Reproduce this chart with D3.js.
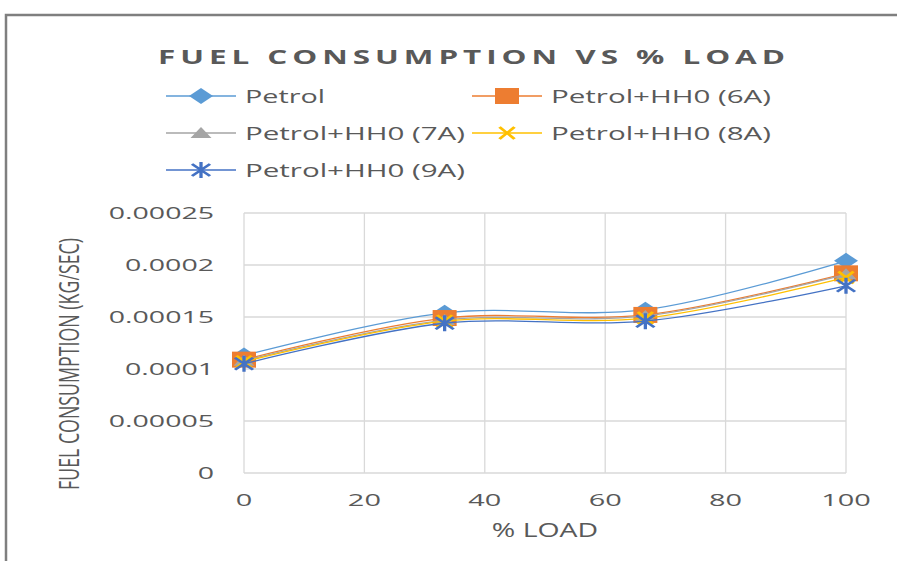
<!DOCTYPE html>
<html>
<head>
<meta charset="utf-8">
<script src="https://cdn.jsdelivr.net/npm/d3@7"></script>
<style>
  body { margin: 0; background: #fff; }
  text { font-family: "Open Sans", "Liberation Sans", sans-serif; fill: #595959; }
</style>
</head>
<body>
<svg id="chart"></svg>
<script>
// data
var loads = [0, 33.33, 66.67, 100]
var seriesNames = ["Petrol", "Petrol+HH0 (6A)", "Petrol+HH0 (7A)", "Petrol+HH0 (8A)", "Petrol+HH0 (9A)"]
var petrol = [0.000113, 0.000154, 0.000157, 0.000204]
var hho6 = [0.000109, 0.000149, 0.000152, 0.000192]
var hho7 = [0.000108, 0.000147, 0.000151, 0.000191]
var hho8 = [0.000107, 0.000146, 0.000149, 0.000188]
var hho9 = [0.000105, 0.000144, 0.000146, 0.000180]
var yTicks = [0, 0.00005, 0.0001, 0.00015, 0.0002, 0.00025]
var yTickLabels = ["0", "0.00005", "0.0001", "0.00015", "0.0002", "0.00025"]
var xTicks = [0, 20, 40, 60, 80, 100]

var colors = ["#5b9bd5", "#ed7d31", "#a5a5a5", "#ffc000", "#4472c4"]
var shapes = ["diamond", "square", "triangle", "x", "star"]
var allValues = [petrol, hho6, hho7, hho8, hho9]

var screen = {width: 897, height: 561}
var plot = {left: 244, right: 846, top: 213, bottom: 473}

var svg = d3.select("#chart")
    .attr("width", screen.width)
    .attr("height", screen.height)

// the picture is stretched sideways, so text is widened to match
var stretch = function(sel, sx) {
    sel.each(function() {
        var w = this.getComputedTextLength()
        d3.select(this).attr("textLength", w * sx).attr("lengthAdjust", "spacingAndGlyphs")
    })
}

// frame (only top and left edges visible)
svg.append("path")
    .attr("d", "M6," + screen.height + "V15H" + screen.width)
    .attr("fill", "none")
    .attr("stroke", "#7f7f7f")
    .attr("stroke-width", 2.5)

var xScale = d3.scaleLinear().domain([0, 100]).range([plot.left, plot.right])
var yScale = d3.scaleLinear().domain([0, 0.00025]).range([plot.bottom, plot.top])

// grid
svg.append("g").selectAll("line")
    .data(yTicks)
    .enter().append("line")
    .attr("x1", plot.left).attr("x2", plot.right)
    .attr("y1", function(d) { return yScale(d) })
    .attr("y2", function(d) { return yScale(d) })
    .attr("stroke", "#d9d9d9").attr("stroke-width", 1.3)

svg.append("g").selectAll("line")
    .data(xTicks)
    .enter().append("line")
    .attr("y1", plot.top).attr("y2", plot.bottom)
    .attr("x1", function(d) { return xScale(d) })
    .attr("x2", function(d) { return xScale(d) })
    .attr("stroke", "#d9d9d9").attr("stroke-width", 1.3)

// tick labels
var yLab = svg.append("g").selectAll("text")
    .data(yTicks)
    .enter().append("text")
    .attr("x", 214)
    .attr("y", function(d) { return yScale(d) + 6 })
    .attr("text-anchor", "end")
    .style("font-size", "16px")
    .text(function(d, i) { return yTickLabels[i] })
stretch(yLab, 1.78)

var xLab = svg.append("g").selectAll("text")
    .data(xTicks)
    .enter().append("text")
    .attr("x", function(d) { return xScale(d) })
    .attr("y", 506)
    .attr("text-anchor", "middle")
    .style("font-size", "17px")
    .text(function(d) { return d })
stretch(xLab, 1.7)

// axis titles
var xTitle = svg.append("text")
    .attr("x", 545).attr("y", 537)
    .attr("text-anchor", "middle")
    .style("font-size", "20px")
    .text("% LOAD")
stretch(xTitle, 1.42)

svg.append("text")
    .attr("transform", "translate(79,364) scale(1.55,1) rotate(-90)")
    .attr("text-anchor", "middle")
    .attr("textLength", 252)
    .attr("lengthAdjust", "spacingAndGlyphs")
    .style("font-size", "18px")
    .text("FUEL CONSUMPTION (KG/SEC)")

// title
svg.append("text")
    .attr("x", 474).attr("y", 64)
    .attr("text-anchor", "middle")
    .attr("textLength", 632)
    .attr("lengthAdjust", "spacingAndGlyphs")
    .style("font-size", "19px")
    .style("font-weight", "bold")
    .style("letter-spacing", "3px")
    .text("FUEL CONSUMPTION VS % LOAD")

// marker shapes, drawn narrow then widened by 1.5
var symbolFor = function(shape) {
    if (shape == "diamond") return "M0,-8L8,0L0,8L-8,0Z"
    if (shape == "square") return "M-8,-8H8V8H-8Z"
    if (shape == "triangle") return "M0,-6L7,5H-7Z"
    if (shape == "x") return "M-5,-6L5,6M-5,6L5,-6"
    return "M0,-8V8M-6,-6L6,6M-6,6L6,-6"
}

var drawMarker = function(g, shape, color) {
    var p = g.append("path").attr("d", symbolFor(shape))
    if (shape == "x" || shape == "star") {
        p.attr("fill", "none").attr("stroke", color).attr("stroke-width", 2.2)
    } else {
        p.attr("fill", color)
    }
}

var line = d3.line()
    .x(function(d, i) { return xScale(loads[i]) })
    .y(function(d) { return yScale(d) })
    .curve(d3.curveCatmullRom.alpha(0.5))

allValues.forEach(function(vals, s) {
    svg.append("path")
        .attr("d", line(vals))
        .attr("fill", "none")
        .attr("stroke", colors[s])
        .attr("stroke-width", 1.3)
    vals.forEach(function(v, i) {
        var g = svg.append("g")
            .attr("transform", "translate(" + xScale(loads[i]) + "," + yScale(v) + ") scale(1.5,1)")
        drawMarker(g, shapes[s], colors[s])
    })
})

// legend
var legendPos = [[166, 96], [472, 96], [166, 133], [472, 133], [166, 170]]
var legendWidths = [80, 220, 220, 220, 220]
seriesNames.forEach(function(name, s) {
    var g = svg.append("g")
        .attr("transform", "translate(" + legendPos[s][0] + "," + legendPos[s][1] + ")")
    g.append("line")
        .attr("x1", 0).attr("x2", 70)
        .attr("stroke", colors[s]).attr("stroke-width", 1.3)
    var m = g.append("g").attr("transform", "translate(35,0) scale(1.5,1)")
    drawMarker(m, shapes[s], colors[s])
    g.append("text")
        .attr("x", 79).attr("y", 7)
        .attr("textLength", legendWidths[s])
        .attr("lengthAdjust", "spacingAndGlyphs")
        .style("font-size", "19px")
        .text(name)
})
</script>
</body>
</html>
